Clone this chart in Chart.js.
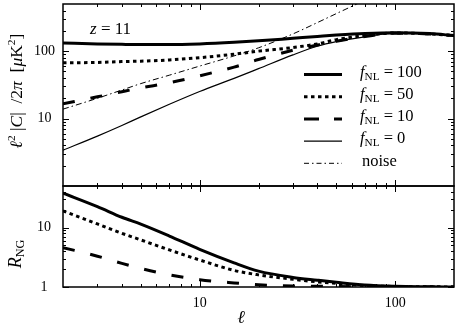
<!DOCTYPE html>
<html>
<head>
<meta charset="utf-8">
<script src="https://cdn.jsdelivr.net/npm/chart.js@4"></script>
<style>
  body { margin: 0; background: #fff; }
  #wrap { position: relative; width: 455px; height: 327px; background: #fff; font-family: 'Liberation Serif', serif; color: #000; }
  .box { position: absolute; left: 0; width: 455px; }
  .lbl { position: absolute; white-space: nowrap; line-height: 1; }
  .rot { transform: translate(-50%, -50%) rotate(-90deg); }
  .sub { font-size: 0.68em; vertical-align: -0.3em; font-style: normal; }
  .leg { position: absolute; left: 360px; font-size: 16.5px; white-space: nowrap; line-height: 1; transform: translateY(-50%); }
</style>
</head>
<body>
<div id="wrap">
  <div class="box" style="top:0;height:190px"><canvas id="topChart"></canvas></div>
  <div class="box" style="top:182px;height:145px"><canvas id="botChart"></canvas></div>

  <div class="lbl rot" style="left:16px;top:91px;font-size:17.5px"><i>ℓ</i><sup style="font-size:0.65em">2</sup>&nbsp;|<i>C</i>|&nbsp;&nbsp;/2<i>π</i>&nbsp;&nbsp;[<i>μ</i>K<sup style="font-size:0.65em">2</sup>]</div>
  <div class="lbl rot" style="left:16px;top:254px;font-size:18px"><i>R</i><span class="sub">NG</span></div>
  <div class="lbl" style="left:241px;top:317px;font-size:18px;transform:translate(-50%,-50%)"><i>ℓ</i></div>
  <div class="lbl" style="left:90px;top:28px;font-size:17px;transform:translateY(-50%)"><i>z</i> = 11</div>

  <div class="leg" style="top:73px"><i>f</i><span class="sub">NL</span> = 100</div>
  <div class="leg" style="top:95px"><i>f</i><span class="sub">NL</span> = 50</div>
  <div class="leg" style="top:117px"><i>f</i><span class="sub">NL</span> = 10</div>
  <div class="leg" style="top:139px"><i>f</i><span class="sub">NL</span> = 0</div>
  <div class="leg" style="top:161px;left:362px">noise</div>
</div>

<script>
// multipole values shared by all curves
const ell = [2, 3, 4, 5, 7, 10, 15, 20, 30, 40, 50, 70, 100, 150, 200];

// top panel: l^2 |C| / 2pi [muK^2]
const cFnl100 = [132, 128, 126, 125, 125, 128, 135, 142, 155, 165, 173, 183, 188, 182, 170];
const cFnl50  = [67, 68, 70, 71, 74, 80, 90, 100, 113, 128, 148, 170, 186, 180, 170];
const cFnl10  = [16.5, 21, 25, 28.5, 34, 43, 58, 75, 103, 123, 140, 165, 184, 180, 170];
const cFnl0   = [3.4, 5.5, 7.9, 10.6, 16.3, 25.2, 39.5, 55, 88, 118, 138, 163, 183, 180, 170];
const cNoise  = [13.8, 20, 26.5, 33, 44, 60, 85, 112, 180, 265, 360, 570, 950, 1600, 2400];

// bottom panel: R_NG
const rFnl100 = [38, 22.5, 14.9, 11.4, 7.2, 4.3, 2.55, 1.85, 1.45, 1.3, 1.2, 1.08, 1.03, 1.01, 1.0];
const rFnl50  = [19, 11.5, 8, 6.2, 4.2, 2.85, 1.9, 1.6, 1.35, 1.22, 1.15, 1.06, 1.02, 1.01, 1.0];
const rFnl10  = [4.6, 3.3, 2.5, 2.05, 1.6, 1.33, 1.17, 1.09, 1.04, 1.03, 1.02, 1.01, 1.0, 1.0, 1.0];

// tick marks and labels
const xMajor = [10, 100];
const xMinor = [3, 4, 5, 6, 7, 8, 9, 20, 30, 40, 50, 60, 70, 80, 90];
const yTopMajor = [10, 100];
const yTopMinor = [2, 3, 4, 5, 6, 7, 8, 9, 20, 30, 40, 50, 60, 70, 80, 90, 200, 300, 400];
const yBotMajor = [1, 10];
const yBotMinor = [2, 3, 4, 5, 6, 7, 8, 9, 20, 30, 40];

const FONT = "'Liberation Serif', serif";

function pts(vals) {
    return ell.map((l, i) => ({ x: l, y: vals[i] }));
}

// frame box with inward ticks on all four sides
const frameTicks = {
    id: 'frameTicks',
    afterDatasetsDraw(chart, args, opts) {
        const { ctx, chartArea: a, scales } = chart;
        const xs = scales.x, ys = scales.y;
        ctx.save();
        ctx.strokeStyle = '#000';
        ctx.lineWidth = 1;
        ctx.beginPath();
        const xt = (list, len) => list.forEach(v => {
            const p = Math.round(xs.getPixelForValue(v)) + 0.5;
            ctx.moveTo(p, a.bottom); ctx.lineTo(p, a.bottom - len);
            ctx.moveTo(p, a.top); ctx.lineTo(p, a.top + len);
        });
        const yt = (list, len) => list.forEach(v => {
            const p = Math.round(ys.getPixelForValue(v)) + 0.5;
            ctx.moveTo(a.left, p); ctx.lineTo(a.left + len, p);
            ctx.moveTo(a.right, p); ctx.lineTo(a.right - len, p);
        });
        xt(opts.xMajor, 6); xt(opts.xMinor, 3);
        yt(opts.yMajor, 6); yt(opts.yMinor, 3);
        ctx.stroke();
        ctx.lineWidth = 1.5;
        ctx.strokeRect(a.left, a.top, a.right - a.left, a.bottom - a.top);
        ctx.restore();
    }
};

// legend line samples, styled from the top chart datasets
const legendLines = {
    id: 'legendLines',
    afterDraw(chart, args, opts) {
        const ctx = chart.ctx;
        ctx.save();
        chart.data.datasets.forEach((ds, i) => {
            const y = opts.y0 + i * opts.step;
            ctx.beginPath();
            ctx.strokeStyle = '#000';
            ctx.lineWidth = ds.borderWidth;
            ctx.setLineDash(ds.legendDash || ds.borderDash || []);
            ctx.moveTo(opts.x0, y);
            ctx.lineTo(opts.x1, y);
            ctx.stroke();
        });
        ctx.restore();
    }
};

const styles = {
    f100: { borderWidth: 3, borderDash: [] },
    f50: { borderWidth: 3, borderDash: [3.5, 3.5] },
    f10: { borderWidth: 3, borderDash: [12, 16], legendDash: [15, 15] },
    f0: { borderWidth: 1.2, borderDash: [] },
    noise: { borderWidth: 1, borderDash: [6, 3, 1.5, 3], legendDash: [5, 3, 1.5, 3] }
};

function yTicks(padding) {
    return {
        color: '#000',
        font: { family: FONT, size: 14 },
        padding: padding,
        crossAlign: 'center',
        callback: v => String(v)
    };
}

// keep the plot box exactly where the layout padding puts it
function fitY(s) {
    s.width = 63;
    s.paddingTop = 0;
    s.paddingBottom = 0;
}

const common = {
    responsive: true,
    maintainAspectRatio: false,
    animation: false,
    elements: {
        point: { radius: 0 },
        line: { borderColor: '#000', cubicInterpolationMode: 'monotone', borderCapStyle: 'butt', fill: false }
    }
};

new Chart(document.getElementById('topChart'), {
    type: 'line',
    data: {
        datasets: [
            { data: pts(cFnl100), ...styles.f100 },
            { data: pts(cFnl50), ...styles.f50 },
            { data: pts(cFnl10), ...styles.f10 },
            { data: pts(cFnl0), ...styles.f0 },
            { data: pts(cNoise), ...styles.noise }
        ]
    },
    options: {
        ...common,
        layout: { padding: { top: 4, bottom: 4, left: 0, right: 1 } },
        plugins: {
            legend: { display: false },
            tooltip: { enabled: false },
            frameTicks: { xMajor: xMajor, xMinor: xMinor, yMajor: yTopMajor, yMinor: yTopMinor },
            legendLines: { x0: 304, x1: 342, y0: 74.5, step: 22.2 }
        },
        scales: {
            x: { type: 'logarithmic', min: 2, max: 200, display: false },
            y: {
                type: 'logarithmic', min: 1, max: 500,
                grid: { display: false, drawTicks: false },
                border: { display: false },
                ticks: yTicks(8),
                afterBuildTicks: s => { s.ticks = yTopMajor.map(v => ({ value: v })); },
                afterFit: fitY
            }
        }
    },
    plugins: [frameTicks, legendLines]
});

new Chart(document.getElementById('botChart'), {
    type: 'line',
    data: {
        datasets: [
            { data: pts(rFnl100), ...styles.f100 },
            { data: pts(rFnl50), ...styles.f50 },
            { data: pts(rFnl10), ...styles.f10 }
        ]
    },
    options: {
        ...common,
        layout: { padding: { top: 4, bottom: 0, left: 0, right: 1 } },
        plugins: {
            legend: { display: false },
            tooltip: { enabled: false },
            frameTicks: { xMajor: xMajor, xMinor: xMinor, yMajor: yBotMajor, yMinor: yBotMinor }
        },
        scales: {
            x: {
                type: 'logarithmic', min: 2, max: 200,
                grid: { display: false, drawTicks: false },
                border: { display: false },
                ticks: { color: '#000', font: { family: FONT, size: 14 }, padding: 8, maxRotation: 0, autoSkip: false, callback: v => String(v) },
                afterBuildTicks: s => { s.ticks = xMajor.map(v => ({ value: v })); },
                afterFit: s => { s.height = 40; s.paddingLeft = 0; s.paddingRight = 0; }
            },
            y: {
                type: 'logarithmic', min: 1, max: 50,
                grid: { display: false, drawTicks: false },
                border: { display: false },
                ticks: yTicks(12),
                afterBuildTicks: s => { s.ticks = yBotMajor.map(v => ({ value: v })); },
                afterFit: fitY
            }
        }
    },
    plugins: [frameTicks]
});
</script>
</body>
</html>
